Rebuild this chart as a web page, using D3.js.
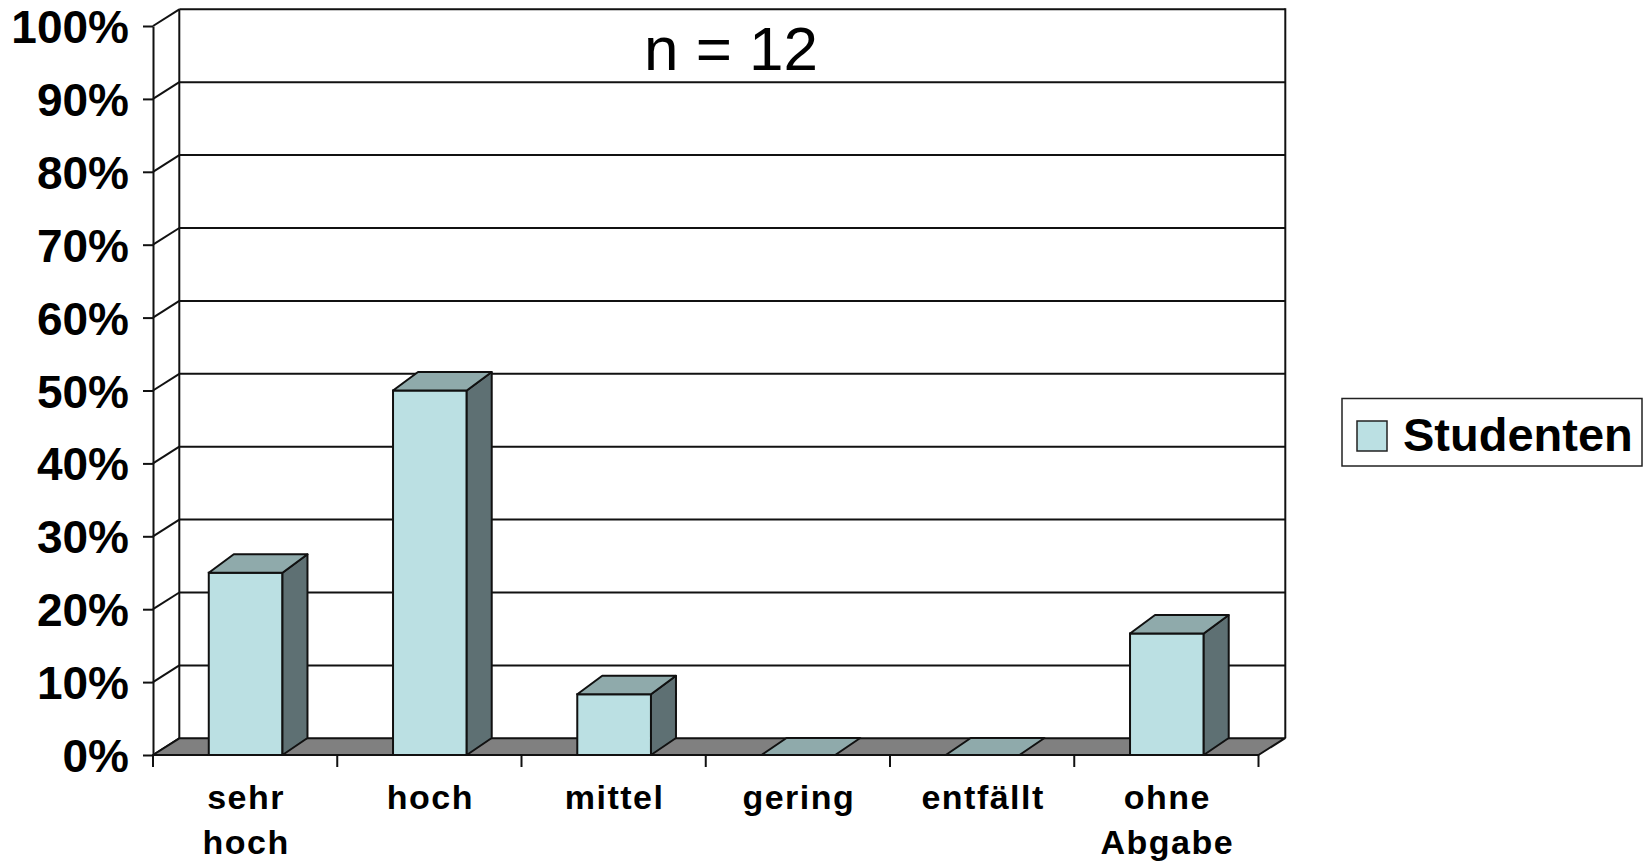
<!DOCTYPE html>
<html>
<head>
<meta charset="utf-8">
<script src="https://cdn.jsdelivr.net/npm/d3@7"></script>
<style>
  body { margin: 0; background: #fff; }
  svg { display: block; font-family: "Liberation Sans", Arial, sans-serif; }
</style>
</head>
<body>
<div id="chart"></div>
<script>
// Data (n = 12)
const categories = ["sehr hoch", "hoch", "mittel", "gering", "entfällt", "ohne Abgabe"];
const labelLines = [["sehr", "hoch"], ["hoch"], ["mittel"], ["gering"], ["entfällt"], ["ohne", "Abgabe"]];
const values = [0.25, 0.5, 0.0833, 0, 0, 0.1667];
const yTicks = [0, 0.1, 0.2, 0.3, 0.4, 0.5, 0.6, 0.7, 0.8, 0.9, 1];
const seriesName = "Studenten";
const titleText = "n = 12";

const width = 1645, height = 863;
const front = { left: 153, right: 1258.5, top: 26, bottom: 755 };
const wallDepth = { dx: 26.3, dy: 16.7 };
const barDepth = { dx: 25, dyTop: 18.5, dyBottom: 17 };

const colors = { front: "#bbe0e3", top: "#8faaab", side: "#5e7073", floor: "#808080" };

const svg = d3.select("#chart")
  .append("svg")
  .attr("width", width)
  .attr("height", height);

const x = d3.scaleBand()
  .domain(categories)
  .range([front.left, front.right]);

const y = d3.scaleLinear()
  .domain([0, 1])
  .range([front.bottom, front.top]);

const backLeft = front.left + wallDepth.dx;
const backRight = front.right + wallDepth.dx + 0.5;

// Back wall gridlines and left wall diagonals
const grid = svg.append("g").attr("stroke", "#111").attr("stroke-width", 2).attr("fill", "none");
grid.selectAll(".grid")
  .data(yTicks.filter(d => d > 0))
  .join("line")
  .attr("x1", backLeft)
  .attr("x2", backRight)
  .attr("y1", d => y(d) - wallDepth.dy)
  .attr("y2", d => y(d) - wallDepth.dy);

grid.selectAll(".diag")
  .data(yTicks)
  .join("line")
  .attr("x1", front.left)
  .attr("x2", backLeft)
  .attr("y1", d => y(d))
  .attr("y2", d => y(d) - wallDepth.dy);

// wall edges
grid.append("line")
  .attr("x1", backLeft).attr("x2", backLeft)
  .attr("y1", y(1) - wallDepth.dy).attr("y2", y(0) - wallDepth.dy);
grid.append("line")
  .attr("x1", backRight).attr("x2", backRight)
  .attr("y1", y(1) - wallDepth.dy - 1).attr("y2", y(0) - wallDepth.dy);

// Floor
svg.append("polygon")
  .attr("points", [
    [front.left, y(0)],
    [front.right, y(0)],
    [front.right + wallDepth.dx, y(0) - wallDepth.dy],
    [backLeft, y(0) - wallDepth.dy]
  ].join(" "))
  .attr("fill", colors.floor)
  .attr("stroke", "#111")
  .attr("stroke-width", 2)
  .attr("stroke-linejoin", "round");

// Y axis
const yAxis = d3.axisLeft(y)
  .tickValues(yTicks)
  .tickFormat(d3.format(".0%"))
  .tickSize(10)
  .tickSizeOuter(0)
  .tickPadding(14);

svg.append("g")
  .attr("transform", `translate(${front.left},0)`)
  .call(yAxis)
  .call(g => g.select(".domain").attr("stroke", "#111").attr("stroke-width", 2))
  .call(g => g.selectAll(".tick line").attr("stroke", "#111").attr("stroke-width", 2))
  .call(g => g.selectAll(".tick text")
    .attr("fill", "#000")
    .attr("font-size", 46)
    .attr("font-weight", "bold")
    .attr("dy", "0.36em"));

// Category ticks at band boundaries
const bounds = categories.map(c => x(c)).concat([front.right]);
svg.append("g")
  .selectAll("line")
  .data(bounds)
  .join("line")
  .attr("x1", d => d).attr("x2", d => d)
  .attr("y1", y(0)).attr("y2", y(0) + 12)
  .attr("stroke", "#111")
  .attr("stroke-width", 2);

// Bars
const barW = x.bandwidth() * 0.4;
const bars = svg.append("g")
  .selectAll("g")
  .data(categories.map((c, i) => ({ c, v: values[i] })))
  .join("g");

bars.each(function(d) {
  const g = d3.select(this);
  const x0 = x(d.c) + (x.bandwidth() - barW) / 2 + 0.5;
  const x1 = x0 + barW;
  const y0 = y(0);
  const yt = y(d.v);
  const dx = barDepth.dx;
  if (d.v > 0) {
    g.append("rect")
      .attr("x", x0).attr("y", yt)
      .attr("width", barW).attr("height", y0 - yt)
      .attr("fill", colors.front)
      .attr("stroke", "#111").attr("stroke-width", 2);
    g.append("polygon")
      .attr("points", [[x1, y0], [x1, yt], [x1 + dx, yt - barDepth.dyTop], [x1 + dx, y0 - barDepth.dyBottom]].join(" "))
      .attr("fill", colors.side)
      .attr("stroke", "#111").attr("stroke-width", 2).attr("stroke-linejoin", "round");
    g.append("polygon")
      .attr("points", [[x0, yt], [x1, yt], [x1 + dx, yt - barDepth.dyTop], [x0 + dx, yt - barDepth.dyTop]].join(" "))
      .attr("fill", colors.top)
      .attr("stroke", "#111").attr("stroke-width", 2).attr("stroke-linejoin", "round");
  } else {
    g.append("polygon")
      .attr("points", [[x0, y0], [x1, y0], [x1 + dx, y0 - barDepth.dyBottom], [x0 + dx, y0 - barDepth.dyBottom]].join(" "))
      .attr("fill", colors.top)
      .attr("stroke", "#111").attr("stroke-width", 2).attr("stroke-linejoin", "round");
  }
});

// Category labels
svg.append("g")
  .selectAll("text")
  .data(categories.map((c, i) => ({ c, lines: labelLines[i] })))
  .join("text")
  .attr("x", d => x(d.c) + x.bandwidth() / 2 + 1)
  .attr("y", 809)
  .attr("text-anchor", "middle")
  .attr("font-size", 34)
  .attr("font-weight", "bold")
  .attr("letter-spacing", 1.5)
  .attr("fill", "#000")
  .each(function(d) {
    d3.select(this).selectAll("tspan")
      .data(d.lines)
      .join("tspan")
      .attr("x", x(d.c) + x.bandwidth() / 2 + 1)
      .attr("dy", (l, i) => i === 0 ? 0 : 45)
      .text(l => l);
  });

// Title
svg.append("text")
  .attr("x", 731)
  .attr("y", 70)
  .attr("text-anchor", "middle")
  .attr("font-size", 62)
  .attr("fill", "#000")
  .text(titleText);

// Legend
const legend = svg.append("g");
legend.append("rect")
  .attr("x", 1342).attr("y", 398.5)
  .attr("width", 300).attr("height", 67.5)
  .attr("fill", "#fff")
  .attr("stroke", "#222").attr("stroke-width", 1.5);
legend.append("rect")
  .attr("x", 1357).attr("y", 421)
  .attr("width", 30).attr("height", 30)
  .attr("fill", colors.front)
  .attr("stroke", "#222").attr("stroke-width", 1.5);
legend.append("text")
  .attr("x", 1403).attr("y", 451)
  .attr("font-size", 47)
  .attr("font-weight", "bold")
  .attr("fill", "#000")
  .text(seriesName);
</script>
</body>
</html>
